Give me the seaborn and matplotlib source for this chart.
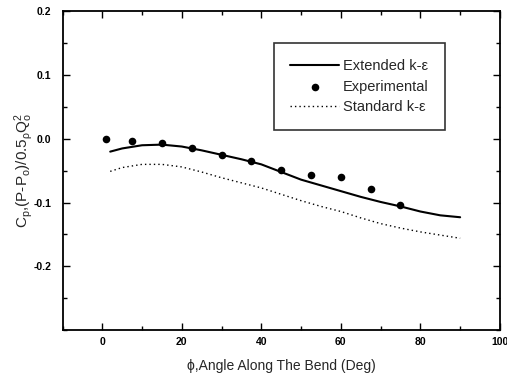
import matplotlib
matplotlib.use("Agg")
import matplotlib.pyplot as plt
from matplotlib.ticker import MultipleLocator, FixedLocator
import seaborn as sns
import pandas as pd

# Measured pressure coefficient along the bend
exp_angle = [1, 7.5, 15, 22.5, 30, 37.5, 45, 52.5, 60, 67.5, 75]
exp_cp = [0.0, -0.004, -0.007, -0.014, -0.025, -0.035, -0.049, -0.057, -0.060, -0.078, -0.104]

# Model predictions
model_angle = [2, 5, 10, 15, 20, 25, 30, 35, 40, 45, 50, 55, 60, 65, 70, 75, 80, 85, 90]
extended_cp = [-0.020, -0.015, -0.010, -0.009, -0.012, -0.018, -0.025, -0.032, -0.040, -0.052,
               -0.064, -0.073, -0.082, -0.091, -0.099, -0.106, -0.114, -0.120, -0.123]
standard_cp = [-0.051, -0.045, -0.040, -0.040, -0.044, -0.052, -0.061, -0.069, -0.077, -0.087,
               -0.097, -0.106, -0.114, -0.124, -0.133, -0.140, -0.146, -0.151, -0.156]

x_ticks = [0, 20, 40, 60, 80, 100]
y_ticks = [-0.2, -0.1, 0.0, 0.1, 0.2]

sns.set_theme(style="white")
plt.rcParams["font.family"] = ["Liberation Sans", "DejaVu Sans"]
plt.rcParams["mathtext.fontset"] = "custom"
plt.rcParams["mathtext.rm"] = "Liberation Sans"
plt.rcParams["mathtext.it"] = "Liberation Sans"

model_df = pd.DataFrame({"angle": model_angle, "extended": extended_cp, "standard": standard_cp})
exp_df = pd.DataFrame({"angle": exp_angle, "cp": exp_cp})

fig = plt.figure(figsize=(5.07, 3.79), dpi=100)
ax = fig.add_axes([0.1233, 0.1293, 0.8627, 0.8404])

sns.lineplot(data=model_df, x="angle", y="extended", ax=ax, color="black", lw=1.5,
             label="Extended k-\u03b5")
sns.scatterplot(data=exp_df, x="angle", y="cp", ax=ax, color="black", s=30,
                edgecolor="black", linewidth=0, label="Experimental")
sns.lineplot(data=model_df, x="angle", y="standard", ax=ax, color="black", lw=1.0,
             linestyle=(0, (1, 2.2)), label="Standard k-\u03b5")

ax.set_xlim(-10, 100)
ax.set_ylim(-0.3, 0.2)
ax.xaxis.set_major_locator(FixedLocator(x_ticks))
ax.yaxis.set_major_locator(FixedLocator(y_ticks))
ax.xaxis.set_minor_locator(MultipleLocator(10))
ax.yaxis.set_minor_locator(MultipleLocator(0.05))
ax.set_xticklabels([f"{t:d}" for t in x_ticks])
ax.set_yticklabels([f"{t:.1f}" for t in y_ticks])

ax.tick_params(which="both", direction="in", top=True, right=True, bottom=True, left=True,
               labelsize=7.5, width=1.0, colors="black")
ax.tick_params(axis="x", which="major", pad=5)
ax.tick_params(axis="y", which="major", pad=8)
ax.tick_params(which="major", length=5)
ax.tick_params(which="minor", length=3)
for lab in ax.get_xticklabels() + ax.get_yticklabels():
    lab.set_fontweight("bold")
for sp in ax.spines.values():
    sp.set_color("black")
    sp.set_linewidth(1.3)

ax.set_xlabel("\u03d5,Angle Along The Bend (Deg)", fontsize=10, labelpad=9)
ax.set_ylabel(r"C$_{p}$,(P-P$_{o}$)/0.5$_{\rho}$Q$_{o}^{2}$", fontsize=11, labelpad=-1)

leg = ax.legend(loc="upper right", bbox_to_anchor=(0.874, 0.901), frameon=True, fancybox=False,
                edgecolor="black", fontsize=10.5, handlelength=3.4, borderpad=1.1,
                labelspacing=0.45, handletextpad=0.25, borderaxespad=0)
leg.get_frame().set_linewidth(1.2)

fig.savefig("out.png", dpi=100, facecolor="white")
